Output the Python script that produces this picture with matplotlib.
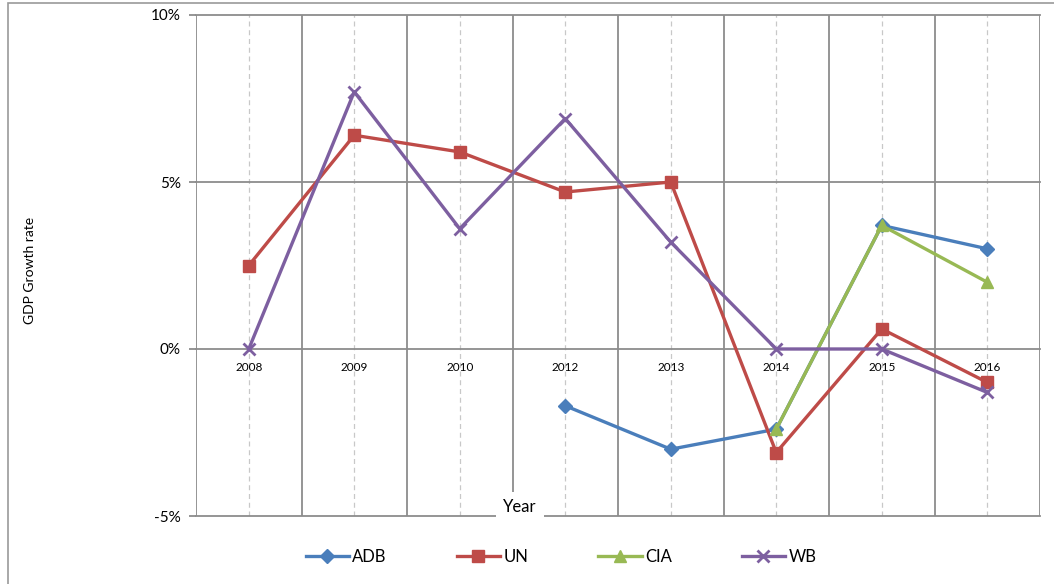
import numpy as np
import matplotlib.pyplot as plt
from matplotlib.patches import Rectangle

plt.rcParams['font.family'] = ['Lato', 'DejaVu Sans']

years = ['2008', '2009', '2010', '2012', '2013', '2014', '2015', '2016']
adb = [np.nan, np.nan, np.nan, -1.7, -3.0, -2.4, 3.7, 3.0]
un = [2.5, 6.4, 5.9, 4.7, 5.0, -3.1, 0.6, -1.0]
cia = [np.nan, np.nan, np.nan, np.nan, np.nan, -2.4, 3.7, 2.0]
wb = [0.0, 7.7, 3.6, 6.9, 3.2, 0.0, 0.0, -1.3]
yticks = [-5, 0, 5, 10]

fig = plt.figure(figsize=(10.54, 5.84), dpi=100)
fig.patches.append(Rectangle((8 / 1054, -0.1), 1.1, 1.1 - 3 / 584,
                             transform=fig.transFigure, fill=False,
                             edgecolor='#9a9a9a', lw=1.2))
ax = fig.add_axes([196 / 1054, 1 - 516 / 584, (1040 - 196) / 1054, (516 - 15) / 584])

x = np.arange(len(years))
ax.set_xlim(-0.5, len(years) - 0.5)
ax.set_ylim(-5, 10)

# grid: solid lines between categories, dashed through them
for k in range(len(years) + 1):
    ax.axvline(k - 0.5, color='#8c8c8c', lw=1.3, zorder=1)
for xi in x:
    ax.axvline(xi, color='#c8c8c8', lw=0.9, ls=(0, (4, 3)), zorder=1)
for yv in yticks:
    ax.axhline(yv, color='#8c8c8c', lw=1.3, zorder=1, clip_on=False)

ax.plot(x, adb, color='#4A7EBB', lw=2.4, marker='D', ms=7, label='ADB', zorder=3)
ax.plot(x, un, color='#BE4B48', lw=2.4, marker='s', ms=8, label='UN', zorder=3)
ax.plot(x, cia, color='#98B954', lw=2.4, marker='^', ms=9, label='CIA', zorder=3)
ax.plot(x, wb, color='#7D5FA0', lw=2.4, marker='x', ms=9, mew=2, label='WB', zorder=3)

ax.set_xticks([])
ax.set_yticks(yticks)
ax.set_yticklabels([f'{v}%' for v in yticks], fontsize=11)
ax.tick_params(axis='y', length=5, color='#8c8c8c', width=1.3, pad=6)
for s in ax.spines.values():
    s.set_visible(False)

for xi, lab in zip(x, years):
    ax.annotate(lab, (xi, 0), xytext=(0, -13.5), textcoords='offset points',
                ha='center', va='center', fontsize=8.5)

ax.text(2.57, -4.72, 'Year', ha='center', va='center', fontsize=12,
        bbox=dict(facecolor='white', edgecolor='none', pad=5), zorder=4)

fig.text(30 / 1054, 1 - 270 / 584, 'GDP Growth rate', rotation=90,
         ha='center', va='center', fontsize=10)

fig.legend(loc='center', bbox_to_anchor=(561 / 1054, 1 - 557 / 584), ncol=4,
           frameon=False, fontsize=12, handlelength=2.6, columnspacing=4.2,
           handletextpad=0.2)

fig.savefig('out.png', dpi=100)
